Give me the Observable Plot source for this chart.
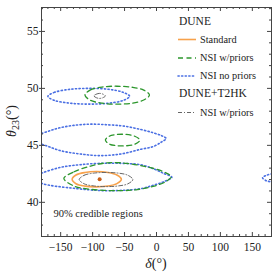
<!DOCTYPE html>
<html><head><meta charset="utf-8">
<script src="https://cdn.jsdelivr.net/npm/d3@7"></script>
<script src="https://cdn.jsdelivr.net/npm/@observablehq/plot@0.6"></script>
<style>body{margin:0;background:#fff}</style>
</head><body><div id="chart"></div>
<script>
// Contours [delta(deg), theta23(deg)]
const standard = [[-132,42.02],[-126,42.4],[-112,42.62],[-94,42.7],[-76,42.62],[-62,42.4],[-55,42.02],[-62,41.64],[-76,41.43],[-94,41.36],[-112,41.42],[-126,41.63]];
const t2hkLow = [[-121,42.0],[-113,42.38],[-97,42.57],[-79,42.62],[-61,42.57],[-45,42.38],[-37,42.0],[-45,41.62],[-61,41.43],[-79,41.38],[-97,41.43],[-113,41.62]];
const t2hkUp = [[-98,49.34],[-94,49.5],[-89,49.56],[-84,49.5],[-80,49.34],[-84,49.18],[-89,49.12],[-94,49.18]];
const wpUp = [[-112,49.41],[-104,49.85],[-85,50.12],[-62,50.19],[-38,50.1],[-20,49.85],[-11,49.41],[-20,48.98],[-38,48.7],[-62,48.62],[-85,48.7],[-104,48.97]];
const wpMid = [[-80,45.46],[-74,45.8],[-62,45.95],[-48,45.96],[-34,45.8],[-26,45.46],[-34,45.1],[-48,44.96],[-62,44.97],[-74,45.12]];
const wpLow = [[-145,42.1],[-129,42.68],[-103,43.18],[-77,43.47],[-46,43.42],[-15,43.1],[0,42.9],[14,42.6],[23,42.25],[14,41.8],[-7,41.37],[-30,41.12],[-60,41.02],[-103,41.14],[-129,41.43]];
const npUp = [[-170,49.3],[-160,49.65],[-135,49.92],[-106,50.0],[-75,49.92],[-52,49.65],[-42,49.3],[-52,48.95],[-75,48.7],[-106,48.62],[-135,48.7],[-160,48.95]];
const npMid = [[-215,45.55],[-180,46.05],[-155,46.49],[-130,46.75],[-103,46.86],[-75,46.8],[-51,46.69],[-25,46.4],[-5,46.1],[8,45.85],[15,45.6],[8,45.3],[-5,44.9],[-25,44.65],[-55,44.25],[-88,44.1],[-119,44.24],[-150,44.53],[-180,45.1]];
const npLow = [[-194,42.15],[-180,42.55],[-150,43.07],[-120,43.3],[-88,43.42],[-55,43.42],[-25,43.3],[-5,42.95],[11,42.54],[24,42.2],[11,41.8],[-5,41.5],[-25,41.2],[-77,41.02],[-129,41.23],[-180,41.67]];
const npWrap = [[192,42.7],[180,42.5],[171,42.35],[166,42.15],[171,41.92],[180,41.78],[192,41.6]];
const bestFit = [[-89,42.02]];

const majorX = [-150,-100,-50,0,50,100,150];
const minorX = [-170,-160,-140,-130,-120,-110,-90,-80,-70,-60,-40,-30,-20,-10,10,20,30,40,60,70,80,90,110,120,130,140,160,170];
const majorY = [40,45,50,55];
const minorY = [38,39,41,42,43,44,46,47,48,49,51,52,53,54,56,57];

const W = 278, H = 278, mL = 41, mR = 7, mT = 7, mB = 42;
const ph = H - mT - mB, pw = W - mL - mR;

const cOrange = "#f7a24c", cGreen = "#2c962c", cBlue = "#4a6fe3", cGray = "#666";
const sBlue = {stroke: cBlue, strokeWidth: 1.6, strokeDasharray: "1.2,2.4", strokeLinecap: "round"};
const sGreen = {stroke: cGreen, strokeWidth: 1.3, strokeDasharray: "5,3.5"};
const sGray = {stroke: cGray, strokeWidth: 1, strokeDasharray: "4,2,1,2"};
const sOrange = {stroke: cOrange, strokeWidth: 1.6};

const L = (data, opts, curve = "catmull-rom-closed") => Plot.line(data, {x: d => d[0], y: d => d[1], curve, clip: true, ...opts});

const plot = Plot.plot({
  width: W, height: H,
  marginLeft: mL, marginRight: mR, marginTop: mT, marginBottom: mB,
  x: {domain: [-180, 180]},
  y: {domain: [37, 57.1]},
  style: {fontFamily: "'Liberation Serif', serif", fontSize: "11.5px", background: "white", color: "#222"},
  marks: [
    L(npMid, sBlue), L(npLow, sBlue), L(npUp, sBlue), L(npWrap, sBlue, "catmull-rom"),
    L(wpUp, sGreen), L(wpMid, sGreen), L(wpLow, sGreen),
    L(standard, sOrange),
    L(t2hkLow, sGray), L(t2hkUp, sGray),
    Plot.dot(bestFit, {x: d => d[0], y: d => d[1], r: 2, fill: "#c9601a"}),
    Plot.frame({stroke: "#444"}),
    Plot.tickX(majorX, {x: d => d, insetTop: ph - 4, stroke: "#444"}),
    Plot.tickX(majorX, {x: d => d, insetBottom: ph - 4, stroke: "#444"}),
    Plot.tickX(minorX, {x: d => d, insetTop: ph - 2, stroke: "#444"}),
    Plot.tickX(minorX, {x: d => d, insetBottom: ph - 2, stroke: "#444"}),
    Plot.tickY(majorY, {y: d => d, insetRight: pw - 4, stroke: "#444"}),
    Plot.tickY(majorY, {y: d => d, insetLeft: pw - 4, stroke: "#444"}),
    Plot.tickY(minorY, {y: d => d, insetRight: pw - 2, stroke: "#444"}),
    Plot.tickY(minorY, {y: d => d, insetLeft: pw - 2, stroke: "#444"}),
    Plot.axisX(majorX, {anchor: "bottom", tickSize: 0, tickPadding: 6, label: null}),
    Plot.axisY(majorY, {anchor: "left", tickSize: 2, tickPadding: 1, label: null, stroke: "#444"}),
    Plot.text(["90% credible regions"], {frameAnchor: "bottom-left", dx: 12, dy: -20, fontSize: 10.5, textAnchor: "start", fill: "#222"})
  ]
});
document.getElementById("chart").appendChild(plot);

const svg = d3.select(plot);
// axis titles
const xl = svg.append("text").attr("x", 156).attr("y", 268).attr("text-anchor", "middle")
  .attr("font-size", 14).attr("fill", "#222");
xl.append("tspan").attr("font-style", "italic").text("δ");
xl.append("tspan").text("(°)");
const yl = svg.append("text").attr("transform", "translate(16,121) rotate(-90)").attr("text-anchor", "middle")
  .attr("font-size", 14).attr("fill", "#222");
yl.append("tspan").attr("font-style", "italic").text("θ");
yl.append("tspan").attr("font-size", 10).attr("dy", 3).text("23");
yl.append("tspan").attr("dy", -3).text("(°)");

// legend
const leg = svg.append("g").attr("fill", "#222").attr("text-anchor", "start");
const heads = [["DUNE", 25], ["DUNE+T2HK", 96.5]];
heads.forEach(([t, y]) => leg.append("text").attr("x", 179).attr("y", y).attr("font-size", 11.5).text(t));
const items = [["Standard", 39.5, sOrange], ["NSI w/priors", 58, sGreen], ["NSI no priors", 76, sBlue], ["NSI w/priors", 112.5, sGray]];
items.forEach(([t, y, s]) => {
  leg.append("line").attr("x1", 178).attr("x2", 196).attr("y1", y).attr("y2", y)
    .attr("stroke", s.stroke).attr("stroke-width", s.strokeWidth)
    .attr("stroke-dasharray", s.strokeDasharray || null).attr("stroke-linecap", s.strokeLinecap || null);
  leg.append("text").attr("x", 200).attr("y", y + 3.3).attr("font-size", 10.3).text(t);
});
</script>
</body></html>
